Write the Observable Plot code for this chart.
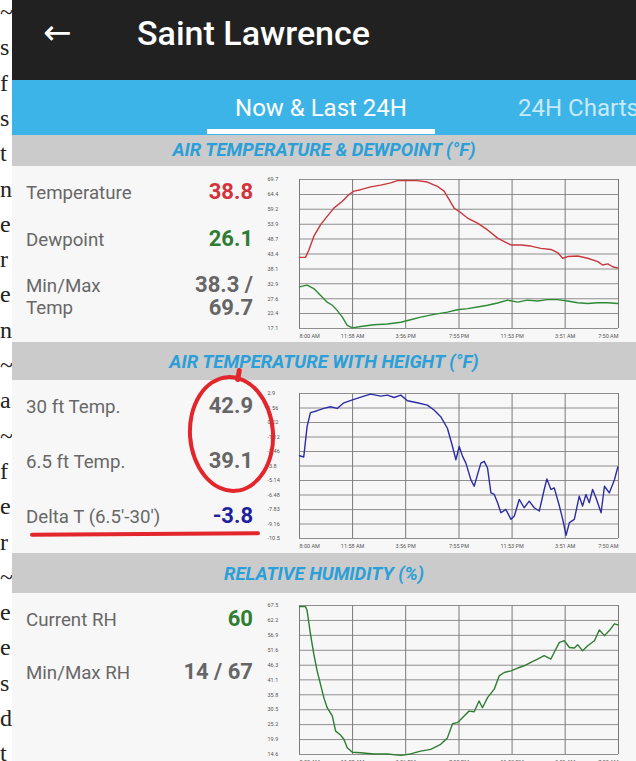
<!DOCTYPE html>
<html><head><meta charset="utf-8">
<script src="https://cdn.jsdelivr.net/npm/d3@7"></script>
<script src="https://cdn.jsdelivr.net/npm/@observablehq/plot@0.6"></script>
<style>
body{margin:0;background:#fff;font-family:Roboto,"Noto Sans",sans-serif;}
#page{position:relative;width:636px;height:761px;overflow:hidden;background:#fff;}
.abs{position:absolute;white-space:nowrap;}
.band{position:absolute;left:12px;width:624px;background:#cbcbcb;color:#2a9fd8;font-weight:700;font-style:italic;font-size:18.5px;text-align:center;}
.panel{position:absolute;left:12px;width:624px;background:#f7f7f7;}
.lab{position:absolute;left:26px;font-size:18.7px;color:#686868;line-height:22px;}
.val{position:absolute;right:383px;font-size:22px;font-weight:700;color:#666;line-height:24px;text-align:right;}
.letter{position:absolute;left:0px;width:14px;text-align:left;font-family:"Liberation Serif","DejaVu Serif",serif;font-size:24px;color:#222;line-height:30px;}
.chart{position:absolute;left:258px;width:372px;}
</style></head>
<body>
<div id="page">
  <div id="margin"></div>
  <div class="abs" style="left:12px;top:0;width:624px;height:80px;background:#212121"></div>
  <div class="abs" style="left:43px;top:12px;font-family:'DejaVu Sans';font-size:34px;line-height:40px;color:#fff">←</div>
  <div class="abs" style="left:137px;top:12px;font-size:34px;font-weight:500;line-height:42px;color:#fff">Saint Lawrence</div>
  <div class="abs" style="left:12px;top:80px;width:624px;height:55px;background:#3db4e8"></div>
  <div class="abs" style="left:197px;top:94px;width:248px;text-align:center;font-size:24px;line-height:28px;color:#fff">Now &amp; Last 24H</div>
  <div class="abs" style="left:518px;top:94px;font-size:24px;line-height:28px;color:rgba(255,255,255,0.72)">24H Charts</div>
  <div class="abs" style="left:207px;top:129px;width:228px;height:5px;background:#fff"></div>

  <div class="band" style="top:135px;height:31px;line-height:31px">AIR TEMPERATURE &amp; DEWPOINT (°F)</div>
  <div class="panel" style="top:166px;height:176px"></div>
  <div class="band" style="top:342px;height:38px;line-height:40px">AIR TEMPERATURE WITH HEIGHT (°F)</div>
  <div class="panel" style="top:380px;height:173px"></div>
  <div class="band" style="top:553px;height:40px;line-height:42px">RELATIVE HUMIDITY (%)</div>
  <div class="panel" style="top:593px;height:168px"></div>

  <div class="lab" style="top:182px">Temperature</div>
  <div class="val" style="top:180px;color:#d3333a">38.8</div>
  <div class="lab" style="top:229px">Dewpoint</div>
  <div class="val" style="top:227px;color:#2e7d32">26.1</div>
  <div class="lab" style="top:275px">Min/Max</div>
  <div class="lab" style="top:297px">Temp</div>
  <div class="val" style="top:273px">38.3 /</div>
  <div class="val" style="top:296px">69.7</div>

  <div class="lab" style="top:396px">30 ft Temp.</div>
  <div class="val" style="top:394px">42.9</div>
  <div class="lab" style="top:451px">6.5 ft Temp.</div>
  <div class="val" style="top:449px">39.1</div>
  <div class="lab" style="top:506px">Delta T (6.5'-30')</div>
  <div class="val" style="top:504px;color:#1f1fa0">-3.8</div>

  <div class="lab" style="top:609px">Current RH</div>
  <div class="val" style="top:607px;color:#2e7d32">60</div>
  <div class="lab" style="top:662px">Min/Max RH</div>
  <div class="val" style="top:660px">14 / 67</div>

  <div class="chart" id="c1" style="top:168px"></div>
  <div class="chart" id="c2" style="top:381px"></div>
  <div class="chart" id="c3" style="top:594px"></div>

  <div class="abs" style="left:188px;top:375px;width:79px;height:110px;border:4px solid #e3262b;border-radius:50%;transform:rotate(-4deg)"></div>
  <div class="abs" style="left:236px;top:368px;width:5px;height:14px;background:#e3262b;border-radius:2px;transform:rotate(10deg)"></div>
  <div class="abs" style="left:30px;top:532px;width:230px;height:4px;background:#e3262b;border-radius:2px;transform:rotate(-0.4deg)"></div>
</div>
<script>
const marginLetters = ["~","s","f","s","t","n","e","r","e","n","~","a","~","f","e","r","~","e","e","s","d","t"];

const timeTicks = [0, 238, 476, 715, 953, 1191, 1430];
const timeLabels = ["8:00 AM","11:58 AM","3:56 PM","7:55 PM","11:53 PM","3:51 AM","7:50 AM"];

const tempTickLabels = ["69.7","64.4","59.2","53.9","48.7","43.4","38.1","32.9","27.6","22.4","17.1"];
const heightTickLabels = ["2.9","1.56","0.22","-1.12","-2.46","-3.8","-5.14","-6.48","-7.83","-9.16","-10.5"];
const rhTickLabels = ["67.5","62.2","56.9","51.6","46.3","41.1","35.8","30.5","25.2","19.9","14.6"];

// minutes after 8:00 AM
const tempMin = [0,27,42,64,94,124,154,192,222,244,274,319,364,409,439,484,528,573,618,648,671,693,716,753,798,843,888,918,948,993,1037,1082,1127,1157,1180,1202,1247,1292,1337,1359,1382,1404,1427];
const tempF = [42.2,42.2,44.8,49.6,53.7,56.7,59.6,62.0,64.4,65.6,66.1,67.1,67.7,68.5,69.3,69.3,69.3,68.8,67.3,65.6,62.6,59.6,58.4,56.1,54.3,51.9,49.0,47.8,46.6,46.6,46.2,45.4,45.0,43.9,41.9,42.5,42.7,41.9,40.7,39.5,39.9,38.9,38.4];

const dewMin = [0,34,64,94,124,147,169,192,214,237,274,334,394,454,498,543,603,663,708,753,798,843,888,933,978,1022,1067,1112,1157,1202,1247,1292,1337,1382,1427];
const dewF = [31.8,32.4,31.2,28.8,26.4,25.3,23.5,21.1,18.2,17.3,17.8,18.4,18.7,19.3,20.2,21.1,22.1,22.9,23.7,24.1,24.7,25.3,26.1,27.1,26.4,27.1,26.8,27.3,27.3,26.8,26.2,25.9,26.2,26.2,25.9];

const deltaMin = [0,19,34,49,79,109,139,169,199,244,289,319,364,394,424,454,484,528,573,603,633,663,686,701,716,731,746,768,783,798,813,828,843,858,873,888,903,925,948,963,985,1007,1030,1052,1075,1097,1109,1127,1142,1165,1180,1195,1210,1232,1254,1269,1284,1299,1314,1329,1352,1367,1389,1412,1427];
const deltaF = [-2.85,-2.97,-0.16,1.13,1.31,1.52,1.68,1.52,2.04,2.35,2.66,2.84,2.66,2.75,2.53,2.75,2.23,2.04,1.83,1.37,0.76,-0.31,-2.0,-3.22,-2.0,-2.91,-3.53,-5.06,-5.67,-4.6,-3.53,-3.37,-3.99,-6.28,-6.43,-7.2,-8.12,-7.81,-8.73,-8.42,-6.89,-7.66,-7.05,-7.66,-7.96,-5.97,-4.99,-5.97,-5.82,-7.5,-8.73,-10.2,-9.03,-8.73,-6.59,-7.5,-6.43,-7.2,-5.97,-6.74,-8.12,-5.67,-6.28,-5.06,-3.89];

const rhMin = [0,27,34,49,64,79,94,109,124,147,162,184,199,214,237,274,334,394,454,498,543,588,633,663,686,708,738,760,783,805,820,843,873,895,918,948,978,1007,1037,1067,1097,1127,1142,1165,1187,1210,1232,1247,1269,1292,1322,1344,1367,1389,1412,1427];
const rhPct = [67.1,67.1,65.7,57.4,50.3,44.3,39.6,34.8,31.2,28.3,22.9,21.5,20.0,17.0,15.4,15.2,14.8,14.8,14.3,14.8,15.8,16.4,18.2,20.5,25.5,25.9,28.3,30.0,29.8,33.6,31.2,34.8,37.8,42.5,43.7,44.3,45.3,46.1,47.3,48.5,49.7,48.5,50.9,54.4,55.0,52.6,52.4,53.6,51.4,53.2,55.0,58.8,56.8,58.6,61.0,60.6];

// margin letters (scanned book edge)
const m = document.getElementById("margin");
marginLetters.forEach((ch, i) => {
  const d = document.createElement("div");
  d.className = "letter";
  d.style.top = (i * 35.3 - 3) + "px";
  d.textContent = ch;
  m.appendChild(d);
});

function chart({ticks, series, height, mt, mb}) {
  const yv = ticks.map(Number);
  const [lo, hi] = d3.extent(yv);
  const xl = d => timeLabels[timeTicks.indexOf(d)];
  const xAxisOpts = {tickSize: 0, tickPadding: 6, tickFormat: xl, label: null, fill: "#555"};
  return Plot.plot({
    width: 372, height,
    marginLeft: 41, marginRight: 12, marginTop: mt, marginBottom: mb,
    style: {background: "transparent", fontFamily: "Roboto", fontSize: "5.5px", color: "#555", overflow: "visible"},
    x: {domain: [0, 1430]},
    y: {domain: [lo, hi]},
    marks: [
      Plot.gridY(yv, {stroke: "#8e8e8e", strokeOpacity: 1, strokeWidth: 1}),
      Plot.gridX(timeTicks, {stroke: "#7a7a7a", strokeOpacity: 1, strokeWidth: 1}),
      Plot.axisY(yv, {tickSize: 0, tickPadding: 32, textAnchor: "start", tickFormat: d => ticks[yv.indexOf(d)], label: null, fill: "#555"}),
      Plot.axisX(timeTicks.slice(1, -1), xAxisOpts),
      Plot.axisX([timeTicks[0]], {...xAxisOpts, textAnchor: "start"}),
      Plot.axisX([timeTicks[timeTicks.length - 1]], {...xAxisOpts, textAnchor: "end"}),
      ...series.map(s => Plot.line(s.y, {x: s.x, y: s.y, stroke: s.color, strokeWidth: 1.4, curve: "linear"}))
    ]
  });
}

document.getElementById("c1").appendChild(chart({
  ticks: tempTickLabels, height: 174, mt: 11, mb: 14,
  series: [{x: tempMin, y: tempF, color: "#c8363e"}, {x: dewMin, y: dewF, color: "#2f8a35"}]
}));
document.getElementById("c2").appendChild(chart({
  ticks: heightTickLabels, height: 172, mt: 12, mb: 15,
  series: [{x: deltaMin, y: deltaF, color: "#2c2ca8"}]
}));
document.getElementById("c3").appendChild(chart({
  ticks: rhTickLabels, height: 174, mt: 11, mb: 14,
  series: [{x: rhMin, y: rhPct, color: "#2e7d32"}]
}));
</script>
</body></html>
